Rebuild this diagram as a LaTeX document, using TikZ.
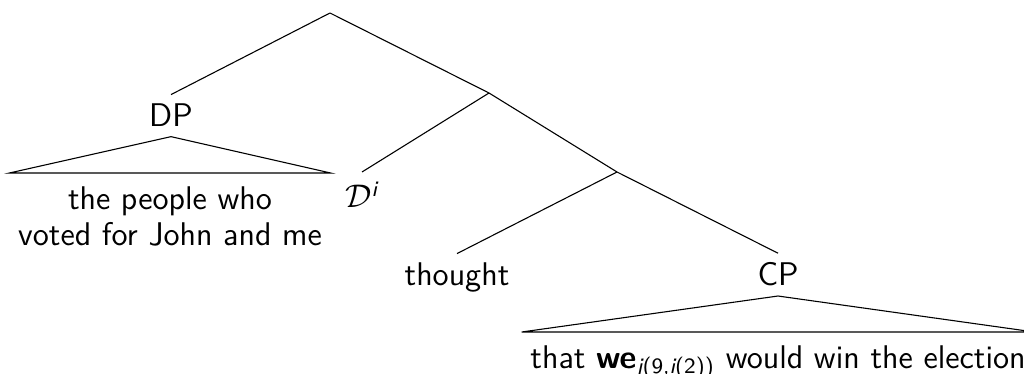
\documentclass[tikz,border=0pt]{standalone}
\usepackage{amsmath,tikz}
\begin{document}
\begin{tikzpicture}[x=0.366pt,y=-0.366pt,every node/.style={font=\sffamily\fontsize{12}{13.2}\selectfont},
      cat/.style={anchor=base},
      roof/.style={anchor=north,align=center,inner xsep=3pt,inner ysep=4.8pt}]
    \useasboundingbox (0,0) rectangle (1024,374);
    % Branching points
    \coordinate (top)  at (330,13);
    \coordinate (vp)   at (489,93);
    \coordinate (vbar) at (617,172);
    % Categories and leaves
    \node[cat] (dp)      at (171,127) {DP};
    \node[cat] (di)      at (362,208) {$\mathcal{D}^{\textit{i}}$};
    \node[cat] (thought) at (457,286) {thought};
    \node[cat] (cp)      at (778,286) {CP};
    % Roof contents
    \node[roof] (dptext) at (170,173) {the people who\\voted for John and me};
    \node[roof] (cptext) at (778,332) {that \textbf{we}$_{\textit{j}\textup{(9,}\textit{i}\textup{(2))}}$ would win the election};
    % Branches
    \foreach \a/\b in {top/dp.north,top/vp,vp/di.north,vp/vbar,vbar/thought.north,vbar/cp.north}{\draw (\a)--(\b);}
    % Roofs
    \draw (dp.south) -- (dptext.north west) -- (dptext.north east) -- cycle;
    \draw (cp.south) -- (cptext.north west) -- (cptext.north east) -- cycle;
  \end{tikzpicture}
\end{document}
